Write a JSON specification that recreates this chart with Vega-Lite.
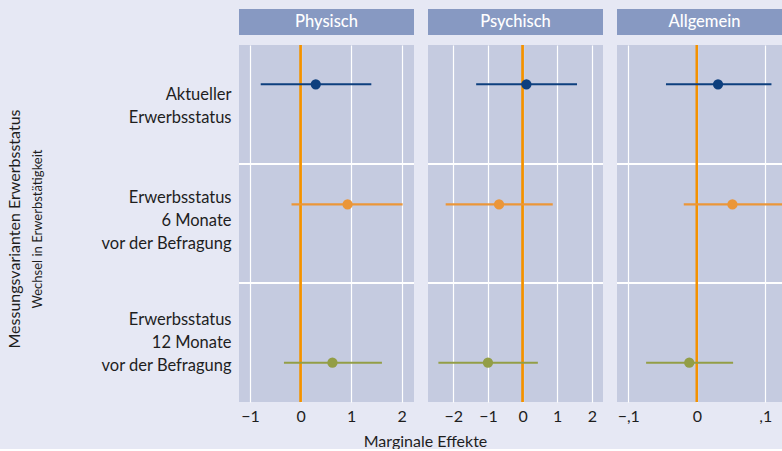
{
  "$schema": "https://vega.github.io/schema/vega-lite/v6.json",
  "background": "#e6e8f4",
  "padding": {"left": 7, "top": 9, "right": 0, "bottom": 0},
  "config": {
    "font": "Lato",
    "view": {"stroke": null},
    "axis": {"labelFont": "Lato", "titleFont": "Lato", "labelColor": "#1e1e1e", "titleColor": "#1e1e1e"}
  },
  "title": {
    "text": "Messungsvarianten Erwerbsstatus",
    "subtitle": "Wechsel in Erwerbstätigkeit",
    "orient": "left",
    "anchor": "middle",
    "fontSize": 16,
    "fontWeight": "normal",
    "color": "#1e1e1e",
    "subtitleFontSize": 13,
    "subtitleColor": "#1e1e1e",
    "subtitlePadding": 9,
    "offset": 55
  },
  "datasets": {
    "panels": [{"panel": "Physisch"}, {"panel": "Psychisch"}, {"panel": "Allgemein"}],
    "est": [
      {"panel": "Physisch", "row": "Aktuell", "pos": 0.33, "est": 0.30, "lo": -0.79, "hi": 1.40},
      {"panel": "Physisch", "row": "6 Monate", "pos": 1.34, "est": 0.93, "lo": -0.18, "hi": 2.02},
      {"panel": "Physisch", "row": "12 Monate", "pos": 2.67, "est": 0.63, "lo": -0.33, "hi": 1.61},
      {"panel": "Psychisch", "row": "Aktuell", "pos": 0.33, "est": 0.11, "lo": -1.34, "hi": 1.57},
      {"panel": "Psychisch", "row": "6 Monate", "pos": 1.34, "est": -0.68, "lo": -2.22, "hi": 0.87},
      {"panel": "Psychisch", "row": "12 Monate", "pos": 2.67, "est": -1.00, "lo": -2.43, "hi": 0.44},
      {"panel": "Allgemein", "row": "Aktuell", "pos": 0.33, "est": 0.031, "lo": -0.045, "hi": 0.109},
      {"panel": "Allgemein", "row": "6 Monate", "pos": 1.34, "est": 0.052, "lo": -0.019, "hi": 0.128},
      {"panel": "Allgemein", "row": "12 Monate", "pos": 2.67, "est": -0.011, "lo": -0.074, "hi": 0.053}
    ]
  },
  "spacing": 9,
  "vconcat": [
    {
      "spacing": 14,
      "hconcat": [
        {
          "width": 175, "height": 26,
          "view": {"fill": "#8799c2", "stroke": null},
          "data": {"name": "panels"},
          "transform": [{"filter": "datum.panel === 'Physisch'"}],
          "mark": {"type": "text", "color": "white", "fontSize": 16.5, "fontWeight": 500, "baseline": "middle", "align": "center"},
          "encoding": {"text": {"field": "panel"}}
        },
        {
          "width": 175, "height": 26,
          "view": {"fill": "#8799c2", "stroke": null},
          "data": {"name": "panels"},
          "transform": [{"filter": "datum.panel === 'Psychisch'"}],
          "mark": {"type": "text", "color": "white", "fontSize": 16.5, "fontWeight": 500, "baseline": "middle", "align": "center"},
          "encoding": {"text": {"field": "panel"}}
        },
        {
          "width": 175, "height": 26,
          "view": {"fill": "#8799c2", "stroke": null},
          "data": {"name": "panels"},
          "transform": [{"filter": "datum.panel === 'Allgemein'"}],
          "mark": {"type": "text", "color": "white", "fontSize": 16.5, "fontWeight": 500, "baseline": "middle", "align": "center"},
          "encoding": {"text": {"field": "panel"}}
        }
      ]
    },
    {
      "spacing": 14,
      "bounds": "flush",
      "hconcat": [
        {
          "width": 175, "height": 357,
          "view": {"fill": "#c5cbe0", "stroke": null},
          "data": {"name": "est"},
          "transform": [{"filter": "datum.panel === 'Physisch'"}],
          "encoding": {
            "x": {"type": "quantitative", "scale": {"domain": [-1.22, 2.245], "nice": false, "zero": false},
              "axis": {"values": [-1, 0, 1, 2], "grid": true, "gridColor": "white", "gridWidth": 1.2, "domain": false, "ticks": false, "labelFontSize": 16, "labelPadding": 6, "title": null}},
            "y": {"type": "quantitative", "scale": {"domain": [0, 3], "reverse": true, "nice": false, "zero": false},
              "axis": {"values": [0.42, 1.285, 2.31], "grid": false, "domain": false, "ticks": false, "labelFontSize": 16.5, "labelLineHeight": 22.7, "labelPadding": 8, "labelAlign": "right", "labelBaseline": "middle", "title": null,
                "labelExpr": "datum.value < 1 ? ['Aktueller', 'Erwerbsstatus'] : (datum.value < 2 ? ['Erwerbsstatus', '6 Monate', 'vor der Befragung'] : ['Erwerbsstatus', '12 Monate', 'vor der Befragung'])"}}
          },
          "layer": [
            {"mark": {"type": "rule", "color": "white", "strokeWidth": 2}, "encoding": {"y": {"datum": 1}, "x": null}},
            {"mark": {"type": "rule", "color": "white", "strokeWidth": 2}, "encoding": {"y": {"datum": 2}, "x": null}},
            {"mark": {"type": "rule", "color": "#f39200", "strokeWidth": 2}, "encoding": {"x": {"datum": 0}, "y": null}},
            {"mark": {"type": "rule", "strokeWidth": 2.2}, "encoding": {"x": {"field": "lo"}, "x2": {"field": "hi"}, "y": {"field": "pos"},
              "color": {"field": "row", "type": "nominal", "scale": {"domain": ["Aktuell", "6 Monate", "12 Monate"], "range": ["#0d3f7e", "#eb9638", "#939e46"]}, "legend": null}}},
            {"mark": {"type": "circle", "size": 105, "opacity": 1}, "encoding": {"x": {"field": "est"}, "y": {"field": "pos"},
              "color": {"field": "row", "type": "nominal", "scale": {"domain": ["Aktuell", "6 Monate", "12 Monate"], "range": ["#003a7c", "#f39220", "#8c9a38"]}, "legend": null}}}
          ]
        },
        {
          "width": 175, "height": 357,
          "view": {"fill": "#c5cbe0", "stroke": null},
          "data": {"name": "est"},
          "transform": [{"filter": "datum.panel === 'Psychisch'"}],
          "encoding": {
            "x": {"type": "quantitative", "scale": {"domain": [-2.73, 2.32], "nice": false, "zero": false},
              "axis": {"values": [-2, -1, 0, 1, 2], "grid": true, "gridColor": "white", "gridWidth": 1.2, "domain": false, "ticks": false, "labelFontSize": 16, "labelPadding": 6,
                "title": "Marginale Effekte", "titleFontSize": 16, "titleFontWeight": "normal", "titleX": -3, "titleAlign": "center", "titlePadding": 9}},
            "y": {"type": "quantitative", "scale": {"domain": [0, 3], "reverse": true, "nice": false, "zero": false}, "axis": null}
          },
          "layer": [
            {"mark": {"type": "rule", "color": "white", "strokeWidth": 2}, "encoding": {"y": {"datum": 1}, "x": null}},
            {"mark": {"type": "rule", "color": "white", "strokeWidth": 2}, "encoding": {"y": {"datum": 2}, "x": null}},
            {"mark": {"type": "rule", "color": "#f39200", "strokeWidth": 2}, "encoding": {"x": {"datum": 0}, "y": null}},
            {"mark": {"type": "rule", "strokeWidth": 2.2}, "encoding": {"x": {"field": "lo"}, "x2": {"field": "hi"}, "y": {"field": "pos"},
              "color": {"field": "row", "type": "nominal", "scale": {"domain": ["Aktuell", "6 Monate", "12 Monate"], "range": ["#0d3f7e", "#eb9638", "#939e46"]}, "legend": null}}},
            {"mark": {"type": "circle", "size": 105, "opacity": 1}, "encoding": {"x": {"field": "est"}, "y": {"field": "pos"},
              "color": {"field": "row", "type": "nominal", "scale": {"domain": ["Aktuell", "6 Monate", "12 Monate"], "range": ["#003a7c", "#f39220", "#8c9a38"]}, "legend": null}}}
          ]
        },
        {
          "width": 175, "height": 357,
          "view": {"fill": "#c5cbe0", "stroke": null},
          "data": {"name": "est"},
          "transform": [{"filter": "datum.panel === 'Allgemein'"}],
          "encoding": {
            "x": {"type": "quantitative", "scale": {"domain": [-0.1165, 0.139], "nice": false, "zero": false},
              "axis": {"values": [-0.1, 0, 0.1], "grid": true, "gridColor": "white", "gridWidth": 1.2, "domain": false, "ticks": false, "labelFontSize": 16, "labelPadding": 6, "title": null,
                "labelExpr": "datum.value === 0 ? '0' : (datum.value < 0 ? '−,1' : ',1')"}},
            "y": {"type": "quantitative", "scale": {"domain": [0, 3], "reverse": true, "nice": false, "zero": false}, "axis": null}
          },
          "layer": [
            {"mark": {"type": "rule", "color": "white", "strokeWidth": 2}, "encoding": {"y": {"datum": 1}, "x": null}},
            {"mark": {"type": "rule", "color": "white", "strokeWidth": 2}, "encoding": {"y": {"datum": 2}, "x": null}},
            {"mark": {"type": "rule", "color": "#f39200", "strokeWidth": 2}, "encoding": {"x": {"datum": 0}, "y": null}},
            {"mark": {"type": "rule", "strokeWidth": 2.2}, "encoding": {"x": {"field": "lo"}, "x2": {"field": "hi"}, "y": {"field": "pos"},
              "color": {"field": "row", "type": "nominal", "scale": {"domain": ["Aktuell", "6 Monate", "12 Monate"], "range": ["#0d3f7e", "#eb9638", "#939e46"]}, "legend": null}}},
            {"mark": {"type": "circle", "size": 105, "opacity": 1}, "encoding": {"x": {"field": "est"}, "y": {"field": "pos"},
              "color": {"field": "row", "type": "nominal", "scale": {"domain": ["Aktuell", "6 Monate", "12 Monate"], "range": ["#003a7c", "#f39220", "#8c9a38"]}, "legend": null}}}
          ]
        }
      ]
    }
  ]
}
